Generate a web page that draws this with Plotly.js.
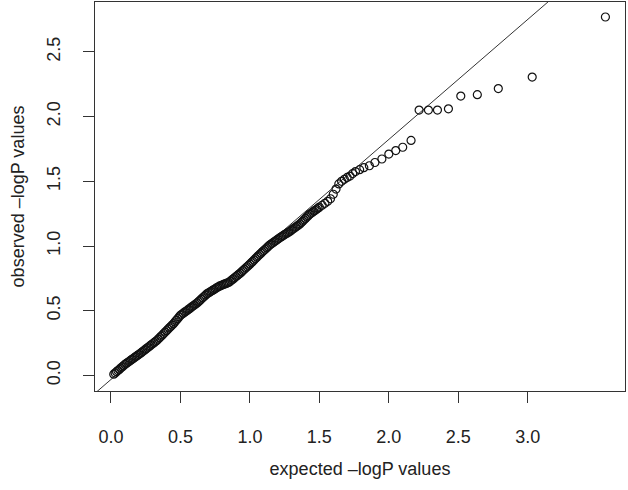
<!DOCTYPE html>
<html>
<head>
<meta charset="utf-8">
<script src="https://cdn.plot.ly/plotly-3.0.1.min.js"></script>
<style>
  body { margin: 0; background: #fff; }
  #qq { width: 628px; height: 490px; }
</style>
</head>
<body>
<div id="qq"></div>
<script>
// expected vs observed -logP
const expected = [
  0.02, 0.03, 0.04, 0.05, 0.06, 0.07, 0.08, 0.09, 0.10,
  0.11, 0.12, 0.13, 0.14, 0.15, 0.16, 0.17, 0.18, 0.19, 0.20, 0.21,
  0.22, 0.23, 0.24, 0.25, 0.26, 0.27, 0.28, 0.29, 0.30, 0.31, 0.32, 0.33,
  0.34, 0.35, 0.36, 0.37, 0.38, 0.39, 0.40, 0.41, 0.42, 0.43, 0.44, 0.45,
  0.46, 0.47, 0.48, 0.49, 0.50, 0.51, 0.52, 0.53, 0.54, 0.55, 0.56, 0.57,
  0.58, 0.59, 0.60, 0.61, 0.62, 0.63, 0.64, 0.65, 0.66, 0.67, 0.68, 0.69,
  0.70, 0.71, 0.72, 0.73, 0.74, 0.75, 0.76, 0.77, 0.78,
  0.79, 0.80, 0.81, 0.82, 0.83, 0.84, 0.85,
  0.86, 0.87, 0.88, 0.89, 0.90, 0.91, 0.92, 0.93,
  0.94, 0.95, 0.96, 0.97, 0.98, 0.99, 1.00,
  1.01, 1.02, 1.03, 1.04, 1.05, 1.06, 1.07,
  1.08, 1.09, 1.10, 1.11, 1.12, 1.13, 1.14,
  1.15, 1.16, 1.17, 1.18, 1.19, 1.20, 1.21,
  1.22, 1.23, 1.24, 1.25, 1.26, 1.27, 1.28, 1.29,
  1.30, 1.31, 1.32, 1.33, 1.34, 1.35, 1.36,
  1.37, 1.38, 1.39, 1.40, 1.41, 1.42, 1.43,
  1.44, 1.45, 1.46, 1.47, 1.48, 1.49, 1.50,
  1.52, 1.54, 1.56, 1.58, 1.60, 1.62, 1.64, 1.66, 1.68, 1.70,
  1.72, 1.74, 1.76, 1.79, 1.82, 1.86, 1.90, 1.95, 2.00, 2.05, 2.10, 2.16,
  2.218, 2.285, 2.350, 2.429, 2.518, 2.637, 2.788, 3.032, 3.559
];
const observed = [
  0.010, 0.019, 0.029, 0.038, 0.047, 0.057, 0.066, 0.075, 0.085,
  0.093, 0.100, 0.108, 0.116, 0.124, 0.131, 0.139, 0.147, 0.155, 0.162, 0.170,
  0.178, 0.187, 0.195, 0.203, 0.212, 0.220, 0.228, 0.237, 0.245, 0.253, 0.262, 0.270,
  0.281, 0.292, 0.303, 0.313, 0.324, 0.335, 0.346, 0.357, 0.368, 0.378, 0.389, 0.400,
  0.413, 0.426, 0.439, 0.452, 0.465, 0.473, 0.481, 0.489, 0.496, 0.504, 0.512, 0.520,
  0.528, 0.536, 0.544, 0.552, 0.560, 0.570, 0.580, 0.590, 0.600, 0.610, 0.620, 0.630,
  0.637, 0.643, 0.650, 0.657, 0.663, 0.670, 0.677, 0.683, 0.690,
  0.694, 0.699, 0.703, 0.707, 0.711, 0.716, 0.720,
  0.729, 0.738, 0.746, 0.755, 0.764, 0.773, 0.781, 0.790,
  0.800, 0.810, 0.820, 0.830, 0.840, 0.850, 0.860,
  0.871, 0.881, 0.892, 0.903, 0.914, 0.924, 0.935,
  0.945, 0.955, 0.965, 0.975, 0.985, 0.995, 1.005,
  1.013, 1.021, 1.029, 1.036, 1.044, 1.052, 1.060,
  1.067, 1.074, 1.081, 1.088, 1.094, 1.101, 1.108, 1.115,
  1.123, 1.131, 1.139, 1.146, 1.154, 1.162, 1.170,
  1.181, 1.191, 1.202, 1.213, 1.224, 1.234, 1.245,
  1.253, 1.261, 1.269, 1.276, 1.284, 1.292, 1.300,
  1.315, 1.330, 1.345, 1.365, 1.400, 1.440, 1.480, 1.500, 1.515, 1.530,
  1.540, 1.560, 1.575, 1.590, 1.605, 1.620, 1.645, 1.672, 1.710, 1.737, 1.763, 1.816,
  2.050, 2.050, 2.050, 2.060, 2.158, 2.169, 2.216, 2.305, 2.769
];

// reference line, as drawn
const refX = [-0.3, 3.5];
const refY = [-0.309, 3.214];

const tickVals = [0, 0.5, 1, 1.5, 2, 2.5, 3];
const fontFam = "Liberation Sans, Arial, sans-serif";

const points = {
  x: expected,
  y: observed,
  mode: "markers",
  type: "scatter",
  marker: {
    symbol: "circle-open",
    size: 8,
    color: "#111",
    line: { width: 1.2, color: "#111" },
  },
  hoverinfo: "skip",
};

const refLine = {
  x: refX,
  y: refY,
  mode: "lines",
  type: "scatter",
  line: { color: "#333", width: 1 },
  hoverinfo: "skip",
};

const layout = {
  width: 628,
  height: 490,
  margin: { l: 95, r: 3, t: 2, b: 99 },
  paper_bgcolor: "#fff",
  plot_bgcolor: "#fff",
  showlegend: false,
  font: { family: fontFam, size: 18, color: "#222" },
  xaxis: {
    range: [-0.115, 3.7],
    tickvals: tickVals,
    tickformat: ".1f",
    ticks: "outside",
    ticklen: 11,
    tickcolor: "#333",
    ticklabelstandoff: 18,
    showgrid: false,
    zeroline: false,
    showline: true,
    mirror: true,
    linecolor: "#333",
    linewidth: 1,
    title: { text: "expected \u2013logP values", standoff: 16, font: { size: 18 } },
  },
  yaxis: {
    range: [-0.12, 2.885],
    tickvals: tickVals.slice(0, 6),
    tickformat: ".1f",
    tickangle: -90,
    ticks: "outside",
    ticklen: 11,
    tickcolor: "#333",
    ticklabelstandoff: 16,
    showgrid: false,
    zeroline: false,
    showline: true,
    mirror: true,
    linecolor: "#333",
    linewidth: 1,
    title: { text: "observed \u2013logP values", standoff: 14, font: { size: 18 } },
  },
};

Plotly.newPlot("qq", [refLine, points], layout, { displayModeBar: false, staticPlot: true });
</script>
</body>
</html>
